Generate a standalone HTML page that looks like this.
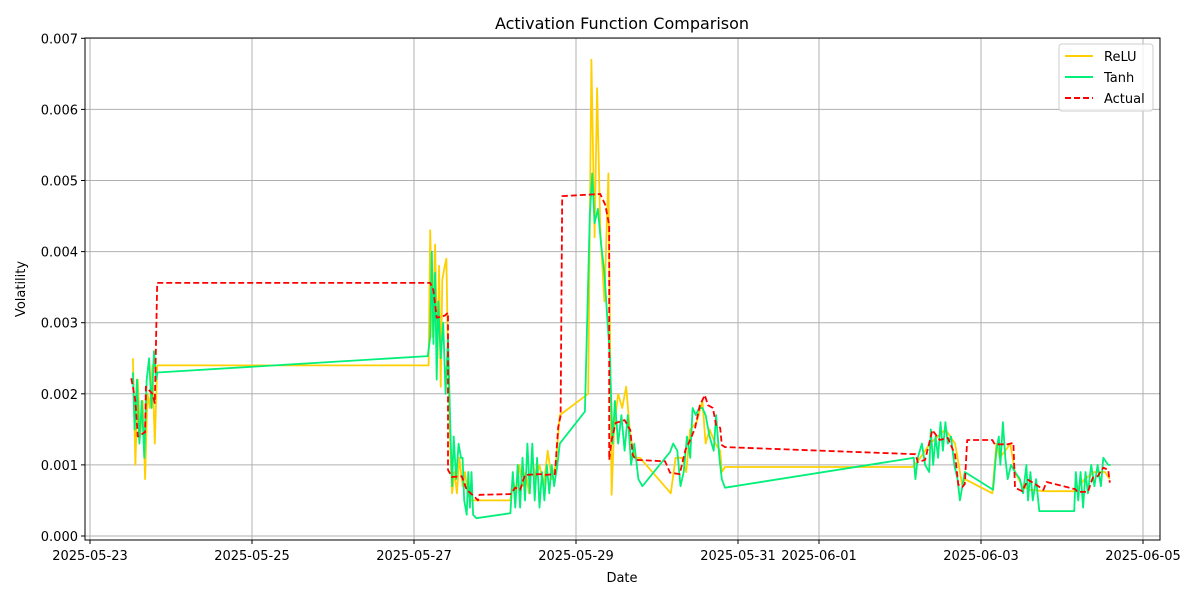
<!DOCTYPE html>
<html><head><meta charset="utf-8"><style>
body{margin:0;background:#fff;font-family:"Liberation Sans","DejaVu Sans",sans-serif}
</style></head><body>
<svg id="chart" width="1200" height="600" xmlns="http://www.w3.org/2000/svg" font-family="DejaVu Sans, Liberation Sans, sans-serif">
<rect width="1200" height="600" fill="#fff"/>
<g id="grid"></g>
<g id="series"></g>
<rect x="85" y="38" width="1075" height="502" fill="none" stroke="#000" stroke-width="1"/>
<g id="ticks"></g>
<text x="622" y="29" font-size="16" text-anchor="middle">Activation Function Comparison</text>
<text x="622" y="582" font-size="13" text-anchor="middle">Date</text>
<text x="25" y="289" font-size="13" text-anchor="middle" transform="rotate(-90 25 289)">Volatility</text>
<g>
<rect x="1059" y="44" width="94" height="67" rx="3" fill="#fff" fill-opacity="0.8" stroke="#ccc"/>
<g><line x1="1065" y1="56" x2="1093" y2="56" stroke="#FFD000" stroke-width="2"/><text x="1104" y="61" font-size="13">ReLU</text></g>
<g><line x1="1065" y1="77" x2="1093" y2="77" stroke="#00F07A" stroke-width="2"/><text x="1104" y="82" font-size="13">Tanh</text></g>
<g><line x1="1065" y1="98" x2="1093" y2="98" stroke="#FF0000" stroke-width="2" stroke-dasharray="6,3"/><text x="1104" y="103" font-size="13">Actual</text></g>
</g>
</svg>
<script>
const xTickDays=[0,2,4,6,8,9,11,13];
const xTickLabels=["2025-05-23","2025-05-25","2025-05-27","2025-05-29","2025-05-31","2025-06-01","2025-06-03","2025-06-05"];
const yTicks=[0,0.001,0.002,0.003,0.004,0.005,0.006,0.007];
const yTickLabels=["0.000","0.001","0.002","0.003","0.004","0.005","0.006","0.007"];
const actualDays=[0.51,0.56,0.59,0.68,0.69,0.77,0.80,0.83,4.20,4.24,4.28,4.38,4.42,4.42,4.47,4.59,4.65,4.74,4.79,4.81,5.19,5.25,5.31,5.37,5.56,5.62,5.74,5.78,5.81,5.83,6.30,6.36,6.41,6.41,6.44,6.49,6.60,6.67,6.70,6.74,7.10,7.16,7.28,7.35,7.41,7.47,7.53,7.59,7.63,7.69,7.73,7.78,7.80,7.84,10.19,10.22,10.31,10.40,10.49,10.59,10.68,10.72,10.77,10.80,10.83,11.14,11.17,11.33,11.40,11.42,11.51,11.58,11.67,11.77,11.81,12.16,12.19,12.32,12.38,12.44,12.51,12.57,12.59];
const actualVals=[0.00222,0.0019,0.0014,0.00146,0.0021,0.0020,0.00187,0.00356,0.00356,0.00346,0.00307,0.0031,0.00314,0.00093,0.00083,0.00084,0.00065,0.00056,0.0005,0.00058,0.00059,0.00068,0.00065,0.00086,0.00087,0.00086,0.00087,0.00153,0.00169,0.00478,0.00481,0.00466,0.00437,0.00107,0.00135,0.00159,0.00163,0.00149,0.00114,0.00107,0.00105,0.00089,0.00087,0.00121,0.00135,0.00152,0.00184,0.00198,0.00184,0.0018,0.00156,0.00152,0.00128,0.00125,0.00115,0.00104,0.00107,0.00149,0.00135,0.00138,0.00114,0.00072,0.00069,0.00073,0.00135,0.00135,0.00129,0.00129,0.00131,0.00068,0.00063,0.00079,0.00073,0.00065,0.00076,0.00066,0.00062,0.00062,0.00082,0.00084,0.00096,0.00093,0.00075];
const reluDays=[0.53,0.56,0.59,0.62,0.65,0.68,0.71,0.74,0.77,0.80,0.83,4.18,4.20,4.23,4.26,4.29,4.31,4.33,4.35,4.38,4.40,4.42,4.45,4.47,4.50,4.53,4.56,4.60,4.63,4.66,4.70,4.74,5.19,5.22,5.26,5.30,5.34,5.38,5.42,5.46,5.50,5.55,5.60,5.65,5.70,5.75,5.80,6.15,6.19,6.23,6.26,6.30,6.35,6.40,6.42,6.44,6.47,6.52,6.57,6.62,6.67,6.73,6.79,7.17,7.23,7.31,7.36,7.41,7.49,7.56,7.60,7.65,7.72,7.78,7.80,7.84,10.16,10.25,10.37,10.56,10.68,10.77,10.80,11.14,11.19,11.23,11.30,11.36,11.42,11.51,11.60,11.79,12.16,12.28,12.40,12.53,12.59];
const reluVals=[0.0025,0.0010,0.0022,0.0014,0.0019,0.0008,0.0020,0.0018,0.0024,0.0013,0.0024,0.0024,0.0043,0.0028,0.0041,0.0025,0.0038,0.0021,0.0036,0.0038,0.0039,0.0025,0.0012,0.0006,0.0009,0.0006,0.0011,0.0007,0.0009,0.0006,0.0005,0.0005,0.0005,0.0008,0.0006,0.0010,0.0007,0.0009,0.0006,0.0011,0.0008,0.0010,0.0007,0.0012,0.0008,0.0010,0.0017,0.0020,0.0067,0.0042,0.0063,0.0043,0.0033,0.0051,0.0028,0.00058,0.0015,0.0020,0.0018,0.0021,0.0014,0.0011,0.0011,0.0006,0.0011,0.0011,0.0009,0.0015,0.0016,0.0019,0.0013,0.0015,0.0013,0.0012,0.0009,0.00097,0.00097,0.0011,0.0013,0.0015,0.0013,0.0007,0.0008,0.0006,0.0013,0.0011,0.0012,0.0013,0.0009,0.0007,0.00065,0.00063,0.00063,0.0008,0.0009,0.0009,0.0008];
const tanhDays=[0.53,0.55,0.58,0.61,0.64,0.67,0.70,0.73,0.76,0.79,0.82,0.83,4.17,4.20,4.22,4.24,4.26,4.28,4.30,4.33,4.36,4.39,4.42,4.45,4.47,4.49,4.52,4.55,4.58,4.60,4.62,4.65,4.67,4.69,4.71,4.73,4.77,5.19,5.22,5.25,5.28,5.31,5.34,5.37,5.40,5.43,5.46,5.49,5.52,5.55,5.58,5.61,5.64,5.67,5.70,5.73,5.77,5.80,6.11,6.17,6.20,6.23,6.27,6.31,6.35,6.39,6.42,6.45,6.48,6.52,6.56,6.60,6.64,6.68,6.72,6.77,6.82,7.16,7.20,7.25,7.29,7.33,7.37,7.41,7.44,7.48,7.52,7.56,7.60,7.65,7.70,7.73,7.77,7.80,7.84,10.17,10.19,10.22,10.27,10.31,10.36,10.38,10.41,10.44,10.47,10.50,10.53,10.56,10.59,10.63,10.67,10.71,10.74,10.77,10.80,11.15,11.19,11.22,11.24,11.27,11.30,11.33,11.37,11.42,11.48,11.52,11.56,11.58,11.61,11.64,11.68,11.72,12.15,12.17,12.20,12.23,12.26,12.29,12.32,12.36,12.40,12.44,12.48,12.51,12.57,12.60];
const tanhVals=[0.0023,0.0015,0.0022,0.0013,0.0019,0.0011,0.0022,0.0025,0.0018,0.0026,0.0022,0.0023,0.00253,0.0028,0.0040,0.0027,0.0037,0.0022,0.0033,0.0025,0.0030,0.0020,0.0028,0.0015,0.0007,0.0014,0.0008,0.0013,0.0011,0.0011,0.0005,0.0003,0.0009,0.0004,0.0009,0.0003,0.00025,0.00032,0.0009,0.0004,0.0010,0.0004,0.0011,0.0005,0.0013,0.0006,0.0013,0.0005,0.0011,0.0004,0.0009,0.0005,0.0010,0.0006,0.0010,0.0007,0.0010,0.0013,0.00175,0.0045,0.0051,0.0044,0.0046,0.0041,0.0037,0.0030,0.0025,0.0013,0.0019,0.0013,0.0017,0.0012,0.0017,0.0010,0.0013,0.0008,0.0007,0.00118,0.0013,0.0012,0.0007,0.0009,0.0014,0.0011,0.0018,0.0017,0.0018,0.0018,0.0017,0.0014,0.0012,0.0017,0.0011,0.0008,0.00068,0.0011,0.0008,0.0011,0.0013,0.0010,0.0009,0.0015,0.0010,0.0014,0.0011,0.0016,0.0012,0.0016,0.0013,0.0014,0.0010,0.0008,0.0005,0.0007,0.0009,0.00065,0.0012,0.0014,0.0010,0.0016,0.0011,0.0008,0.0010,0.0009,0.0008,0.0006,0.0010,0.0005,0.0009,0.0005,0.0008,0.00035,0.00035,0.0009,0.0005,0.0009,0.0004,0.0009,0.0006,0.0010,0.0007,0.0010,0.0007,0.0011,0.0010,0.0010];

const NS="http://www.w3.org/2000/svg";
const X0=90, PXDAY=81, Y0=536, PXUNIT=71.1/0.001;
function xs(d){return X0+d*PXDAY;}
function ys(v){return Y0-v*PXUNIT;}
const grid=document.getElementById('grid'), ticks=document.getElementById('ticks'), series=document.getElementById('series');
function mk(tag,attrs,parent){const e=document.createElementNS(NS,tag);for(const k in attrs)e.setAttribute(k,attrs[k]);parent.appendChild(e);return e;}
xTickDays.forEach((d,i)=>{
  const x=xs(d);
  const g=mk('line',{x1:x,y1:38,x2:x,y2:540,stroke:'#b0b0b0','stroke-width':1},grid);
  
  
  mk('line',{x1:x,y1:540,x2:x,y2:544,stroke:'#000'},ticks);
  const t=mk('text',{x:x,y:560,'font-size':13,'text-anchor':'middle'},ticks);
  t.textContent=xTickLabels[i];
  
  
});
yTicks.forEach((v,i)=>{
  const y=ys(v);
  const g=mk('line',{x1:85,y1:y,x2:1160,y2:y,stroke:'#b0b0b0','stroke-width':1},grid);
  
  
  mk('line',{x1:81,y1:y,x2:85,y2:y,stroke:'#000'},ticks);
  const t=mk('text',{x:78,y:y+5,'font-size':13,'text-anchor':'end'},ticks);
  t.textContent=yTickLabels[i];
  
  
});
function line(days,vals,color,dash,name){
  const pts=days.map((d,i)=>xs(d).toFixed(1)+','+ys(vals[i]).toFixed(1)).join(' ');
  const p=mk('polyline',{points:pts,fill:'none',stroke:color,'stroke-width':1.8,'stroke-linejoin':'round'},series);
  if(dash)p.setAttribute('stroke-dasharray',dash);
  
  
}
line(reluDays,reluVals,'#FFD000',null,'relu-line');
line(tanhDays,tanhVals,'#00F07A',null,'tanh-line');
line(actualDays,actualVals,'#FF0000','6,3','actual-line');
</script>
</body></html>
